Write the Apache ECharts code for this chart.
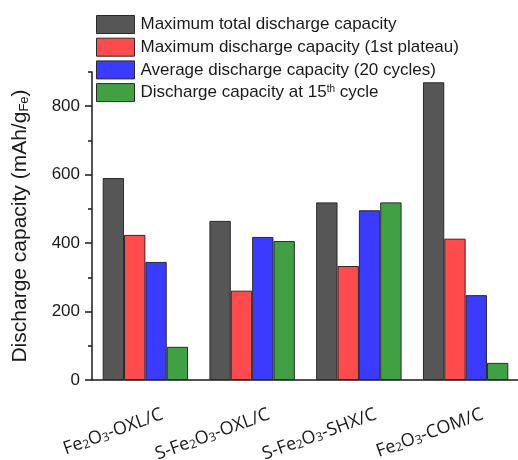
<!DOCTYPE html>
<html>
<head>
<meta charset="utf-8">
<script src="https://cdn.jsdelivr.net/npm/echarts@6/dist/echarts.min.js"></script>
<style>
html,body{margin:0;padding:0;background:#fff;}
#chart{width:518px;height:460px;}
</style>
</head>
<body>
<div id="chart"></div>
<script>
var categories = ['Fe2O3-OXL/C', 'S-Fe2O3-OXL/C', 'S-Fe2O3-SHX/C', 'Fe2O3-COM/C'];
var seriesNames = ['Maximum total discharge capacity', 'Maximum discharge capacity (1st plateau)', 'Average discharge capacity (20 cycles)', 'Discharge capacity at 15th cycle'];
var maxTotal = [590, 465, 519, 870];
var maxFirstPlateau = [424, 261, 333, 413];
var avg20Cycles = [345, 418, 496, 248];
var cycle15 = [97, 406, 519, 50];
var yMajorTicks = [0, 200, 400, 600, 800];
var yMinorTicks = [100, 300, 500, 700, 900];
var colors = ['#565656', '#ff4b4b', '#3b3bff', '#41a041'];
var values = [maxTotal, maxFirstPlateau, avg20Cycles, cycle15];

var textColor = '#1a1a1a';
var chart = echarts.init(document.getElementById('chart'), null, {renderer: 'canvas'});

var series = seriesNames.map(function (n, i) {
  return {
    name: n,
    type: 'bar',
    xAxisIndex: 0,
    yAxisIndex: 0,
    data: values[i],
    barGap: '0%',
    barCategoryGap: '20%',
    itemStyle: {color: colors[i], borderColor: '#2a2a2a', borderWidth: 1},
    emphasis: {disabled: true}
  };
});

chart.setOption({
  animation: false,
  backgroundColor: '#fff',
  legend: {
    orient: 'vertical',
    left: 96,
    top: 15,
    itemWidth: 38,
    itemHeight: 18,
    itemGap: 3.7,
    padding: 0,
    icon: 'rect',
    data: seriesNames,
    formatter: function (name) {
      return name.replace('15th', '15{sup|th}');
    },
    textStyle: {
      fontFamily: 'Liberation Sans, Arial',
      fontSize: 17,
      color: textColor,
      padding: [0, 0, 0, 1],
      rich: {
        sup: {fontSize: 10, verticalAlign: 'top', lineHeight: 12, fontFamily: 'Liberation Sans, Arial', color: textColor}
      }
    },
    itemStyle: {borderColor: '#2a2a2a', borderWidth: 1}
  },
  grid: {left: 92, top: 72, width: 427, height: 308, containLabel: false, outerBoundsMode: 'none'},
  xAxis: [{
    type: 'category',
    data: categories,
    position: 'bottom',
    axisLine: {lineStyle: {color: '#1a1a1a', width: 1.5}},
    axisTick: {alignWithLabel: true, length: 9, lineStyle: {color: '#1a1a1a', width: 1.5}},
    axisLabel: {
      interval: 0,
      rotate: 20,
      align: 'right',
      margin: 40,
      padding: [0, -18, 0, 0],
      fontFamily: 'Open Sans',
      fontSize: 18,
      color: textColor,
      formatter: function (v) {
        return v.replace(/(\d)/g, '{s|$1}');
      },
      rich: {
        s: {fontSize: 12, fontFamily: 'Open Sans', verticalAlign: 'bottom', lineHeight: 12, color: textColor}
      }
    }
  }, {
    type: 'category',
    data: categories,
    position: 'bottom',
    axisLine: {show: false},
    axisTick: {length: 5, lineStyle: {color: '#1a1a1a', width: 1.5}},
    axisLabel: {show: false}
  }],
  yAxis: [{
    type: 'value',
    min: 0,
    max: 900,
    interval: 100,
    name: 'Discharge capacity (mAh/g{s|Fe})',
    nameLocation: 'middle',
    nameGap: 61,
    nameTextStyle: {
      fontFamily: 'Liberation Sans, Arial',
      fontSize: 21,
      color: textColor,
      rich: {
        s: {fontSize: 13, fontFamily: 'Liberation Sans, Arial', verticalAlign: 'bottom', lineHeight: 14, color: textColor}
      }
    },
    splitLine: {show: false},
    axisLine: {show: true, lineStyle: {color: '#1a1a1a', width: 1.5}},
    axisTick: {show: true, length: 7, customValues: yMajorTicks, lineStyle: {color: '#1a1a1a', width: 1.5}},
    axisLabel: {
      customValues: yMajorTicks,
      margin: 12,
      fontFamily: 'Liberation Sans, Arial',
      fontSize: 17,
      color: textColor
    }
  }, {
    type: 'value',
    min: 0,
    max: 900,
    interval: 100,
    position: 'left',
    splitLine: {show: false},
    axisLine: {show: false},
    axisTick: {show: true, length: 4, customValues: yMinorTicks, lineStyle: {color: '#1a1a1a', width: 1.5}},
    axisLabel: {show: false}
  }],
  series: series
});
</script>
</body>
</html>
